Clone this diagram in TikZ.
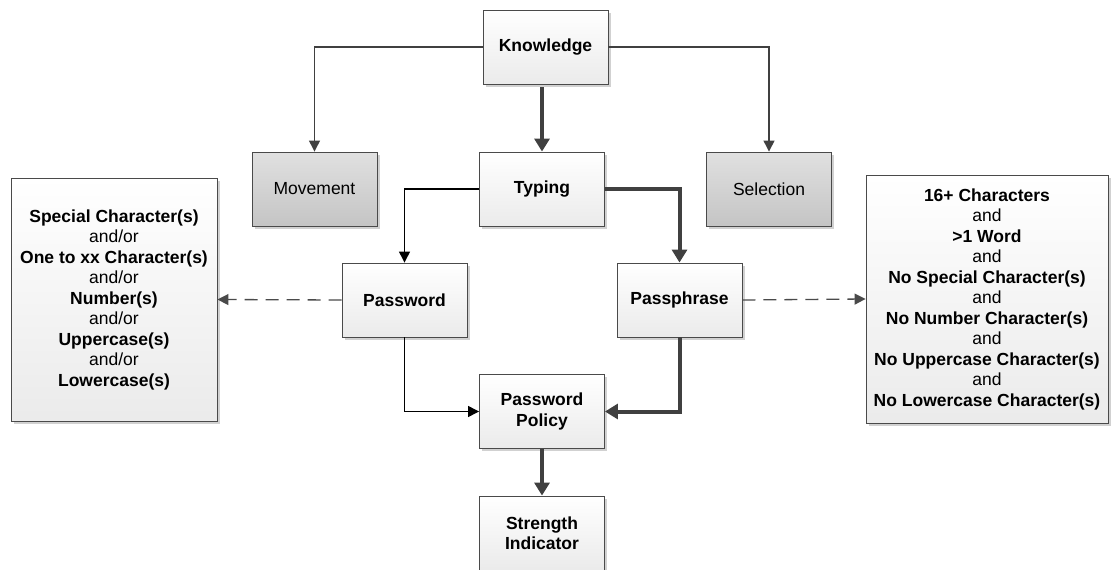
\documentclass[tikz,border=0pt]{standalone}
\usepackage{fontspec}
\setmainfont{Liberation Sans}
\usetikzlibrary{arrows.meta,shadows}
\definecolor{edge}{HTML}{4A4A4A}
\definecolor{thickln}{HTML}{404040}
\definecolor{dashln}{HTML}{4A4A4A}
\tikzset{
  box/.style={draw=edge, line width=0.9pt, minimum width=125pt, minimum height=74pt,
    top color=white, bottom color=black!8, align=center,
    font=\fontsize{17.5}{20.5}\selectfont\bfseries,
    drop shadow={shadow xshift=2.5pt, shadow yshift=-2.5pt, fill=black!18, opacity=1}},
  graybox/.style={box, top color=black!12, bottom color=black!23, font=\fontsize{17.5}{20.5}\selectfont},
  thin/.style={draw=black, line width=1.3pt, -{Triangle[length=11pt,width=11pt]}},
  thinG/.style={thin, draw=thickln},
  thick/.style={draw=thickln, line width=4pt, -{Triangle[length=13pt,width=15pt]}},
  dashedln/.style={draw=dashln, line width=1.3pt, dash pattern=on 13pt off 8pt,
    -{Triangle[length=11pt,width=11pt]}}
}
\begin{document}
\begin{tikzpicture}[x=1pt,y=-1pt]
\useasboundingbox (0,0) rectangle (1111,570);
\clip (0,0) rectangle (1111,570);

\node[box] (know) at (545.5,47) {Knowledge};
\node[graybox] (move) at (314.5,189) {Movement};
\node[box] (type) at (542,189) {Typing};
\node[graybox] (sel) at (769,189) {Selection};
\node[box] (pw) at (404.5,300) {Password};
\node[box] (pp) at (679.5,300) {Passphrase};
\node[box] (pol) at (542,411.5) {Password\\Policy};
\node[box] (str) at (542,533) {Strength\\Indicator};

\node[box, minimum width=206pt, minimum height=243pt] (rules) at (114,299.5)
  {Special Character(s)\\\mdseries and/or\\One to xx Character(s)\\\mdseries and/or\\
   Number(s)\\\mdseries and/or\\Uppercase(s)\\\mdseries and/or\\Lowercase(s)};
\node[box, minimum width=242pt, minimum height=248pt] (prules) at (987,299)
  {16+ Characters\\\mdseries and\\>1 Word\\\mdseries and\\No Special Character(s)\\
   \mdseries and\\No Number Character(s)\\\mdseries and\\No Uppercase Character(s)\\
   \mdseries and\\No Lowercase Character(s)};

\draw[thinG] (know.west) -| (move.north);
\draw[thinG] (know.east) -| (sel.north);
\draw[thick] ([yshift=-3pt]know.south -| type.north) -- (type.north);
\draw[thin] (type.west) -| (pw.north);
\draw[thick] (type.east) -| (pp.north);
\draw[thin] (pw.south) |- (pol.west);
\draw[thick] (pp.south) |- (pol.east);
\draw[thick] (pol.south) -- (str.north);
\draw[dashedln] (pw.west) -- (rules.east);
\draw[dashedln] (pp.east) -- (prules.west);
\end{tikzpicture}
\end{document}
